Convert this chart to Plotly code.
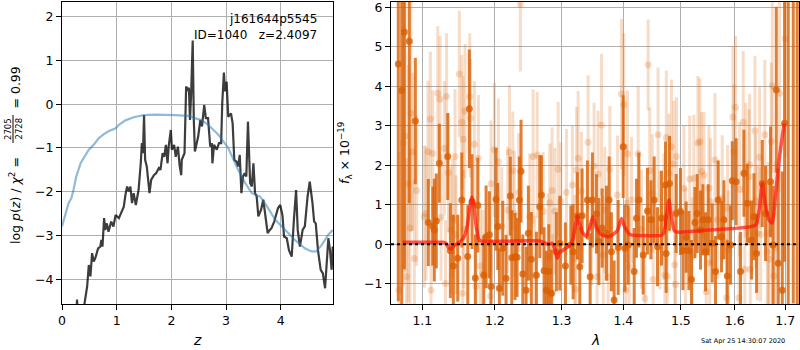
import math
import plotly.graph_objects as go

# ---------------- redshift probability panel ----------------
z_grid = [0.265, 0.275, 0.285, 0.40, 0.41, 0.46, 0.49, 0.52, 0.55, 0.58, 0.61, 0.66, 0.70, 0.72,
          0.74, 0.77, 0.79, 0.82, 0.85, 0.90, 0.94, 0.98, 1.04, 1.08, 1.13, 1.16, 1.19, 1.22,
          1.25, 1.28, 1.31, 1.35, 1.40, 1.44, 1.46, 1.48, 1.50, 1.52, 1.55, 1.60, 1.63, 1.68,
          1.72, 1.77, 1.80, 1.84, 1.87, 1.90, 1.93, 1.95, 1.99, 2.01, 2.05, 2.08, 2.12, 2.15,
          2.18, 2.19, 2.24, 2.27, 2.30, 2.32, 2.34, 2.36, 2.39, 2.41, 2.43, 2.49, 2.53, 2.56,
          2.60, 2.63, 2.67, 2.71, 2.74, 2.75, 2.78, 2.83, 2.87, 2.91, 2.93, 2.96, 2.98, 3.01,
          3.04, 3.09, 3.12, 3.15, 3.19, 3.22, 3.25, 3.28, 3.31, 3.34, 3.37, 3.40, 3.44, 3.47,
          3.50, 3.53, 3.56, 3.59, 3.64, 3.68, 3.72, 3.76, 3.80, 3.83, 3.88, 3.92, 3.95, 3.99,
          4.03, 4.06, 4.11, 4.15, 4.20, 4.24, 4.28, 4.31, 4.35, 4.40, 4.44, 4.49, 4.53, 4.58,
          4.61, 4.64, 4.68, 4.73, 4.77, 4.81, 4.84, 4.87, 4.90, 4.93, 4.95]
log_pz = [-4.70, -4.46, -4.70, -4.80, -4.56, -4.16, -3.67, -3.93, -3.40, -3.59, -3.51, -3.29, -3.25, -3.10,
          -3.25, -2.60, -2.87, -2.72, -2.91, -2.68, -2.79, -2.53, -2.60, -2.49, -2.34, -2.07, -1.88, -1.99,
          -1.88, -2.26, -2.03, -2.30, -1.96, -1.35, -0.89, -1.12, -0.25, -1.27, -1.42, -2.03, -1.73, -1.62,
          -1.58, -1.46, -1.50, -1.12, -1.20, -0.93, -1.35, -0.97, -0.59, -1.04, -0.93, -1.20, -0.97, -1.39,
          -1.62, -1.27, -1.12, 0.40, 0.33, 0.37, -0.36, 0.20, 1.45, -0.36, -1.08, -0.74, -0.36, -0.51,
          -0.02, -0.32, -0.32, -0.97, -0.89, -1.35, -0.93, -1.04, -0.89, -0.89, 0.02, 0.72, 0.29, 0.51,
          -0.29, -0.21, -0.44, -1.27, -1.31, -1.42, -1.16, -2.03, -1.65, -1.58, -1.65, -0.40, -1.80, -1.88,
          -1.35, -2.03, -2.11, -2.56, -2.41, -2.18, -2.56, -2.94, -2.87, -2.83, -2.68, -2.49, -2.37, -2.30,
          -2.53, -3.02, -3.06, -3.33, -3.48, -2.64, -1.96, -2.87, -3.25, -2.87, -2.79, -2.11, -1.77, -2.26,
          -2.68, -2.72, -3.33, -3.78, -3.86, -4.20, -3.63, -3.06, -3.33, -3.78, -3.25]

z_chi2 = [0.00, 0.06, 0.12, 0.17, 0.21, 0.26, 0.34, 0.43, 0.49, 0.58, 0.67, 0.76, 0.85, 0.98,
          1.04, 1.16, 1.31, 1.49, 1.71, 2.07, 2.32, 2.43, 2.56, 2.67, 2.86, 3.04, 3.22, 3.35,
          3.47, 3.62, 3.71, 3.90, 4.08, 4.26, 4.44, 4.56, 4.65, 4.75, 4.87, 4.95]
chi2_scaled = [-2.79, -2.49, -2.26, -2.15, -1.96, -1.65, -1.35, -1.16, -1.04, -0.93, -0.78, -0.69, -0.62, -0.55,
               -0.47, -0.37, -0.30, -0.25, -0.24, -0.25, -0.27, -0.32, -0.37, -0.47, -0.70, -1.00, -1.50, -1.80,
               -2.03, -2.11, -2.26, -2.64, -2.87, -3.10, -3.29, -3.36, -3.36, -3.21, -2.98, -2.87]

# ---------------- spectrum panel ----------------
# first beam (opaque)
wave_a = [1.0687, 1.0731, 1.0765, 1.0829, 1.0908, 1.1079, 1.1138, 1.1159, 1.1186, 1.1226, 1.1340, 1.1376,
          1.1417, 1.1477, 1.1533, 1.1616, 1.1638, 1.1676, 1.1722, 1.1756, 1.1841, 1.1874, 1.1921, 1.1945,
          1.2017, 1.2042, 1.2065, 1.2114, 1.2162, 1.2225, 1.2246, 1.2294, 1.2324, 1.2358, 1.2383, 1.2409,
          1.2458, 1.2492, 1.2537, 1.2613, 1.2664, 1.2689, 1.2730, 1.2765, 1.2802, 1.2842, 1.2919, 1.2972,
          1.3060, 1.3145, 1.3181, 1.3249, 1.3287, 1.3324, 1.3409, 1.3453, 1.3490, 1.3555, 1.3594, 1.3648,
          1.3719, 1.3763, 1.3801, 1.3846, 1.3913, 1.3997, 1.4025, 1.4081, 1.4183, 1.4222, 1.4263, 1.4337,
          1.4411, 1.4470, 1.4527, 1.4585, 1.4655, 1.4726, 1.4738, 1.4797, 1.4916, 1.4993, 1.5037, 1.5096,
          1.5145, 1.5193, 1.5255, 1.5297, 1.5358, 1.5402, 1.5450, 1.5500, 1.5575, 1.5637, 1.5688, 1.5750,
          1.5795, 1.5858, 1.5921, 1.5954, 1.6030, 1.6113, 1.6179, 1.6244, 1.6328, 1.6375, 1.6426, 1.6539,
          1.6604, 1.6704, 1.6752, 1.6819, 1.6859, 1.6941, 1.6987, 1.7062, 1.7165, 1.7248]
flux_a = [4.56, 3.89, 5.37, 5.14, 3.12, 0.55, 0.46, 0.36, 0.59, 2.05, 2.22, -0.16,
          -0.55, -0.35, 1.12, -0.31, 3.43, 1.08, -0.85, 0.99, -0.78, 0.19, 0.24, -1.07,
          1.14, 0.45, -1.11, -0.10, -0.86, 1.22, -0.34, -0.31, -0.33, 1.12, 1.85, -0.75,
          -1.16, 0.28, -0.38, -0.78, 0.95, 1.25, -0.67, -1.16, -0.69, -1.24, -0.19, 0.03,
          -0.55, -0.02, -0.19, 0.72, -0.57, 0.72, 1.12, -0.82, 1.12, 0.77, 0.07, 0.41,
          0.28, 1.12, -0.19, -1.41, -0.08, 2.47, -0.10, -0.02, -0.69, 0.66, 1.12, -0.27,
          0.84, 0.62, 1.12, -0.06, 0.66, 1.50, -0.23, 1.54, 0.78, 0.83, -0.16, 0.18,
          -0.16, -0.89, 0.55, 0.78, 0.36, 0.62, -0.19, 0.62, 0.03, -0.69, 1.12, 0.19,
          0.62, -0.80, -0.02, 1.61, 1.58, -0.69, 1.80, 1.04, 0.11, 0.70, -0.23, 1.54,
          0.78, 1.58, -0.02, 3.91, -0.48, -1.16, 3.06, 6.80, 7.50, 6.50]
err_a = [6.0, 6.0, 6.0, 4.1, 1.6, 1.1, 1.0, 1.3, 1.2, 1.0, 1.1, 1.2,
         1.3, 1.1, 1.2, 1.3, 1.5, 1.2, 1.1, 1.2, 1.0, 1.3, 1.1, 1.2,
         1.3, 1.1, 1.0, 1.2, 1.1, 1.0, 1.2, 1.1, 1.0, 1.1, 1.3, 1.0,
         1.1, 1.2, 1.2, 1.1, 1.3, 1.0, 1.1, 1.0, 1.2, 1.1, 1.0, 1.2,
         1.1, 1.0, 1.2, 1.1, 1.0, 1.2, 1.0, 1.1, 1.2, 1.0, 1.1, 1.0,
         1.2, 1.1, 1.0, 1.0, 1.2, 1.3, 1.1, 1.0, 1.1, 1.0, 1.2, 1.0,
         1.1, 1.0, 1.1, 1.0, 1.2, 1.1, 1.0, 1.2, 1.0, 1.1, 1.0, 0.9,
         1.0, 1.0, 0.9, 1.0, 1.0, 0.9, 1.0, 0.9, 1.0, 0.9, 1.0, 0.9,
         1.0, 0.9, 1.0, 1.0, 1.1, 1.0, 1.1, 1.0, 1.0, 1.1, 1.0, 1.1,
         1.2, 1.4, 1.5, 2.1, 2.4, 3.0, 3.5, 8.5, 9.0, 9.0]

# second beam (faint)
wave_b = [1.0696, 1.0752, 1.0774, 1.0793, 1.0816, 1.0838, 1.0851, 1.0874, 1.0895, 1.0926, 1.1026, 1.1049,
          1.1075, 1.1106, 1.1115, 1.1138, 1.1205, 1.1236, 1.1249, 1.1294, 1.1310, 1.1324, 1.1348, 1.1385,
          1.1408, 1.1440, 1.1454, 1.1499, 1.1533, 1.1547, 1.1551, 1.1560, 1.1578, 1.1644, 1.1652, 1.1708,
          1.1732, 1.1765, 1.1793, 1.1827, 1.1935, 1.1945, 1.1993, 1.2050, 1.2100, 1.2187, 1.2211, 1.2260,
          1.2284, 1.2349, 1.2373, 1.2513, 1.2563, 1.2589, 1.2625, 1.2715, 1.2791, 1.2818, 1.2853, 1.2861,
          1.2895, 1.2946, 1.2988, 1.3076, 1.3170, 1.3208, 1.3221, 1.3237, 1.3261, 1.3313, 1.3420, 1.3474,
          1.3517, 1.3566, 1.3582, 1.3637, 1.3665, 1.3692, 1.3747, 1.3775, 1.3901, 1.3968, 1.4008, 1.4039,
          1.4052, 1.4069, 1.4098, 1.4137, 1.4251, 1.4308, 1.4366, 1.4423, 1.4449, 1.4493, 1.4510, 1.4595,
          1.4627, 1.4698, 1.4715, 1.4740, 1.4756, 1.4786, 1.4832, 1.4875, 1.4889, 1.4903, 1.4921, 1.5055,
          1.5084, 1.5160, 1.5205, 1.5236, 1.5310, 1.5345, 1.5376, 1.5421, 1.5463, 1.5513, 1.5528, 1.5543,
          1.5626, 1.5669, 1.5763, 1.5845, 1.5865, 1.5877, 1.5967, 1.5986, 1.6017, 1.6082, 1.6094, 1.6165,
          1.6195, 1.6214, 1.6277, 1.6289, 1.6302, 1.6394, 1.6410, 1.6440, 1.6485, 1.6505, 1.6590, 1.6638,
          1.6658, 1.6678, 1.6718, 1.6738, 1.6768, 1.6805, 1.6886, 1.7000]
flux_b = [-1.16, 2.56, 2.74, -0.82, 1.53, 0.41, 3.32, 2.34, -0.36, 1.36, 0.70, 0.78,
          2.34, 3.17, -1.16, 2.30, 3.82, 3.67, 0.68, 2.43, -0.99, 3.74, 1.81, 0.36,
          0.66, 2.22, 0.24, 4.31, 3.09, -1.24, 2.66, 0.38, 3.37, 3.74, 3.19, 2.53,
          -1.07, 2.18, -0.55, -0.73, -1.31, 1.53, 2.39, 2.09, 0.45, 0.87, 2.33, 1.86,
          0.77, 1.31, 6.07, 0.70, 2.22, -0.78, 2.26, 0.83, -0.31, 1.05, 1.36, -1.24,
          0.84, 1.90, 1.08, 1.32, 1.50, -0.35, -1.14, 1.88, 2.18, 1.35, 2.58, 0.45,
          1.98, -0.82, 1.78, 3.02, -0.27, 0.87, -0.82, 1.90, 1.25, 3.80, 3.53, -1.16,
          1.04, 2.29, -0.57, 1.12, 2.29, 0.38, -1.37, 4.54, 1.86, 1.29, -0.89, 2.77,
          0.36, 0.70, -0.78, 2.70, -0.80, 1.80, 2.47, 2.03, -0.52, -1.01, 2.22, 1.42,
          -0.06, 1.65, -0.31, 1.67, 2.56, 2.60, 1.84, 1.75, -1.20, 1.42, -0.48, 1.08,
          2.13, 0.62, 1.16, -1.35, 0.91, -0.14, 3.22, 2.34, 3.47, -1.35, 1.39, 3.09,
          -0.63, 1.88, 1.71, 2.01, -0.63, 2.87, 1.10, 0.28, 2.20, 0.25, 2.77, -0.19,
          0.28, -0.38, 2.60, 4.01, -0.80, -0.10, 3.82, 5.20]
err_b = [3.5, 3.6, 3.4, 3.0, 3.0, 2.0, 3.0, 2.0, 2.0, 1.9, 1.8, 1.7,
         1.8, 1.7, 1.7, 1.6, 1.7, 1.6, 1.6, 1.7, 1.6, 1.6, 1.5, 1.6,
         1.5, 1.7, 1.5, 1.6, 1.7, 1.5, 1.6, 1.5, 1.7, 1.6, 1.5, 1.6,
         1.5, 1.6, 1.5, 1.6, 1.5, 1.6, 1.7, 1.6, 1.5, 1.6, 1.7, 1.5,
         1.6, 1.5, 1.7, 1.6, 1.7, 1.5, 1.6, 1.5, 1.6, 1.5, 1.6, 1.5,
         1.6, 1.7, 1.5, 1.6, 1.5, 1.6, 1.5, 1.6, 1.7, 1.5, 1.7, 1.5,
         1.6, 1.5, 1.6, 1.8, 1.5, 1.6, 1.5, 1.6, 1.5, 1.9, 1.8, 1.6,
         1.5, 1.6, 1.5, 1.6, 1.7, 1.5, 1.6, 1.15, 1.6, 1.5, 1.6, 1.7,
         1.5, 1.6, 1.5, 1.7, 1.6, 1.5, 1.7, 1.6, 1.5, 1.6, 1.5, 1.6,
         1.5, 1.6, 1.5, 1.6, 1.7, 1.6, 1.5, 1.6, 1.5, 1.6, 1.5, 1.6,
         1.7, 1.5, 1.6, 1.5, 1.6, 1.5, 1.8, 1.7, 1.8, 1.6, 1.7, 1.8,
         1.6, 1.7, 1.7, 1.8, 1.6, 1.9, 1.7, 1.7, 1.8, 1.7, 1.9, 1.8,
         1.8, 1.9, 2.0, 2.2, 2.0, 2.2, 2.5, 3.0]

# best-fit model
model_wave = [1.0744, 1.1000, 1.1280, 1.1320, 1.1350, 1.1380, 1.1420, 1.1470, 1.1530, 1.1580,
              1.1620, 1.1650, 1.1673, 1.1700, 1.1730, 1.1780, 1.1900, 1.2200, 1.2670, 1.2800,
              1.2850, 1.2900, 1.2934, 1.2970, 1.3050, 1.3145, 1.3180, 1.3220, 1.3249, 1.3280,
              1.3330, 1.3391, 1.3450, 1.3496, 1.3540, 1.3600, 1.3670, 1.3775, 1.3900, 1.3968,
              1.4020, 1.4108, 1.4400, 1.4655, 1.4700, 1.4750, 1.4786, 1.4830, 1.4880, 1.4934,
              1.5575, 1.6406, 1.6480, 1.6539, 1.6600, 1.6680, 1.6738, 1.6800, 1.6876, 1.6979]
model_flux = [0.05, 0.05, 0.05, 0.02, -0.08, -0.12, -0.05, 0.02, 0.10, 0.25,
              0.60, 1.00, 1.20, 1.00, 0.50, 0.10, 0.07, 0.08, 0.08, 0.00,
              0.03, -0.15, -0.35, -0.20, -0.12, 0.00, 0.15, 0.50, 0.72, 0.55,
              0.30, 0.20, 0.45, 0.70, 0.50, 0.30, 0.22, 0.20, 0.35, 0.65,
              0.45, 0.25, 0.22, 0.23, 0.30, 0.80, 1.12, 0.70, 0.35, 0.31,
              0.37, 0.49, 0.90, 1.54, 1.00, 0.60, 0.54, 1.20, 2.13, 3.06]

W, H = 800, 350
FONT = "DejaVu Sans"
GRID = "#b0b0b0"


def fx(p):
    return p / W


def fy(p):
    return 1 - p / H


fig = go.Figure()

fig.add_trace(go.Scatter(x=z_grid, y=log_pz, mode="lines",
                         line=dict(color="rgba(0,0,0,0.76)", width=2.2),
                         xaxis="x", yaxis="y", hoverinfo="skip"))
fig.add_trace(go.Scatter(x=z_chi2, y=chi2_scaled, mode="lines",
                         line=dict(color="rgba(31,119,180,0.5)", width=2.2),
                         xaxis="x", yaxis="y", hoverinfo="skip"))

fig.add_trace(go.Scatter(x=wave_b, y=flux_b, mode="markers",
                         marker=dict(size=7, color="rgba(217,95,2,0.22)", line=dict(width=0)),
                         error_y=dict(type="data", array=err_b, color="rgba(217,95,2,0.22)",
                                      thickness=3, width=0),
                         xaxis="x2", yaxis="y2", hoverinfo="skip"))
fig.add_trace(go.Scatter(x=wave_a, y=flux_a, mode="markers",
                         marker=dict(size=7, color="rgba(217,95,2,0.8)", line=dict(width=0)),
                         error_y=dict(type="data", array=err_a, color="rgba(217,95,2,0.8)",
                                      thickness=3, width=0),
                         xaxis="x2", yaxis="y2", hoverinfo="skip"))
fig.add_trace(go.Scatter(x=model_wave, y=model_flux, mode="lines",
                         line=dict(color="rgba(255,20,10,0.7)", width=3.5, shape="spline",
                                   smoothing=0.6),
                         xaxis="x2", yaxis="y2", hoverinfo="skip"))

axis_common = dict(showgrid=True, gridcolor=GRID, gridwidth=1, zeroline=False,
                   showline=True, linecolor="black", linewidth=1, mirror=True,
                   ticks="outside", ticklen=5, tickwidth=1, tickcolor="black",
                   ticklabeloverflow="allow", automargin=False,
                   tickfont=dict(family=FONT, size=12.5, color="black"))

y_dom = [fy(304), fy(2)]
fig.update_layout(
    width=W, height=H,
    margin=dict(l=0, r=0, t=0, b=0),
    paper_bgcolor="white", plot_bgcolor="white",
    showlegend=False,
    font=dict(family=FONT, color="black"),
    xaxis=dict(axis_common, domain=[fx(62), fx(333)], range=[0, 4.955],
               tickvals=[0, 1, 2, 3, 4], anchor="y"),
    yaxis=dict(axis_common, domain=y_dom, range=[-4.56, 2.33],
               tickvals=[-4, -3, -2, -1, 0, 1, 2], anchor="x"),
    xaxis2=dict(axis_common, domain=[fx(391), fx(799.3)], type="log",
                range=[math.log10(1.0594), math.log10(1.729)],
                tickvals=[1.1, 1.2, 1.3, 1.4, 1.5, 1.6, 1.7],
                ticktext=["1.1", "1.2", "1.3", "1.4", "1.5", "1.6", "1.7"], anchor="y2"),
    yaxis2=dict(axis_common, domain=y_dom, range=[-1.51, 6.13],
                tickvals=[-1, 0, 1, 2, 3, 4, 5, 6], anchor="x2"),
)

# zero level of the spectrum
fig.add_shape(type="line", xref="x2 domain", yref="y2", x0=0, x1=1, y0=0, y1=0,
              line=dict(color="black", width=2, dash="dot"), layer="above")

ann = []
ann.append(dict(text="j161644p5545", x=fx(319), y=fy(19), xanchor="right", yanchor="middle",
                font=dict(size=12, family=FONT)))
ann.append(dict(text="ID=1040\u00a0\u00a0 z=2.4097", x=fx(319), y=fy(35), xanchor="right",
                yanchor="middle", font=dict(size=12, family=FONT)))

# left axis label, built from pieces around the stacked fraction
ann.append(dict(text="log <i>p</i>(<i>z</i>) / <i>χ</i><sup>2</sup> =", textangle=-90,
                x=fx(15), y=fy(201), xanchor="center", yanchor="middle",
                font=dict(size=12.5, family=FONT)))
ann.append(dict(text="2705", textangle=-90, x=fx(8), y=fy(129), xanchor="center",
                yanchor="middle", font=dict(size=8.5, family=FONT)))
ann.append(dict(text="2728", textangle=-90, x=fx(18.5), y=fy(129), xanchor="center",
                yanchor="middle", font=dict(size=8.5, family=FONT)))
ann.append(dict(text="= 0.99", textangle=-90, x=fx(15), y=fy(87.5), xanchor="center",
                yanchor="middle", font=dict(size=12.5, family=FONT)))
fig.add_shape(type="line", xref="paper", yref="paper", x0=fx(13), x1=fx(13),
              y0=fy(115), y1=fy(143), line=dict(color="black", width=1))

ann.append(dict(text="<i>f</i><sub>λ</sub> × 10<sup>−19</sup>", textangle=-90,
                x=fx(345), y=fy(153), xanchor="center", yanchor="middle",
                font=dict(size=12.5, family=FONT)))
ann.append(dict(text="<i>z</i>", x=fx(197), y=fy(340), xanchor="center", yanchor="middle",
                font=dict(size=14, family=FONT)))
ann.append(dict(text="<i>λ</i>", x=fx(595), y=fy(340), xanchor="center", yanchor="middle",
                font=dict(size=14, family=FONT)))
ann.append(dict(text="Sat Apr 25 14:30:07 2020", x=fx(743), y=fy(341), xanchor="center",
                yanchor="middle", font=dict(size=6.5, family=FONT)))

for a in ann:
    a.update(xref="paper", yref="paper", showarrow=False)
fig.update_layout(annotations=ann)

fig.write_html("out.html")
